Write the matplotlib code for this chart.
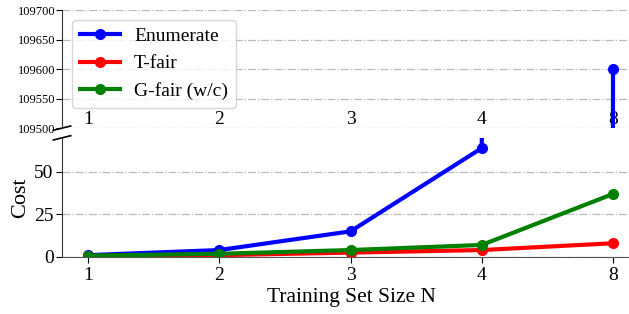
import matplotlib
matplotlib.use('Agg')
import matplotlib.pyplot as plt
import numpy as np

plt.rcParams['font.family'] = ['Liberation Serif', 'DejaVu Serif']

sizes = ['1', '2', '3', '4', '8']
enumerate_cost = [1, 4, 15, 64, 109600]
tfair_cost = [0.5, 1, 2.5, 4, 8]
gfair_cost = [0.7, 1.8, 4, 7, 37]

x = np.arange(len(sizes))

fig = plt.figure(figsize=(6.29, 3.14), dpi=100)
ax_top = fig.add_axes([0.0986, 0.592, 0.919, 0.376])
ax_bot = fig.add_axes([0.0986, 0.182, 0.919, 0.379])

series = [(enumerate_cost, 'blue', 'Enumerate'),
          (tfair_cost, 'red', 'T-fair'),
          (gfair_cost, 'green', 'G-fair (w/c)')]

for ax in (ax_top, ax_bot):
    for vals, c, lab in series:
        ax.plot(x, vals, color=c, marker='o', lw=3, ms=7, label=lab)
    ax.set_xlim(-0.198, 4.206)
    ax.grid(axis='y', linestyle='-.', color='#bbbbbb', lw=0.9)
    ax.set_axisbelow(True)
    ax.spines['top'].set_visible(False)
    ax.spines['right'].set_visible(False)
    ax.spines['left'].set_color('#333333')
    ax.spines['bottom'].set_color('#555555')
    ax.set_xticks(x)
    ax.set_xticklabels(sizes, fontsize=14)

ax_top.set_ylim(109500, 109700)
ax_top.set_yticks([109500, 109550, 109600, 109650, 109700])
ax_top.tick_params(axis='y', labelsize=9, pad=1, length=4)
ax_top.tick_params(axis='x', length=0, pad=-12)
ax_top.spines['bottom'].set_visible(False)

ax_bot.set_ylim(0, 70)
ax_bot.set_yticks([0, 25, 50])
ax_bot.tick_params(axis='y', labelsize=14, pad=2, length=4)
ax_bot.tick_params(axis='x', length=4, pad=3)
ax_bot.set_ylabel('Cost', fontsize=16, labelpad=3)
ax_bot.set_xlabel('Training Set Size N', fontsize=15.5, labelpad=3)

# break marks
d = 0.015
kw = dict(color='k', clip_on=False, lw=1.2)
ax_top.plot((-d, d), (-d * 1.2, d * 1.2), transform=ax_top.transAxes, **kw)
ax_bot.plot((-d, d), (1 - d * 1.2, 1 + d * 1.2), transform=ax_bot.transAxes, **kw)

ax_top.legend(loc='upper left', bbox_to_anchor=(0.0, 1.0), fontsize=14,
              handlelength=2.1, handletextpad=0.7, borderpad=0.4,
              labelspacing=0.5, framealpha=0.8)

fig.savefig('out.png', dpi=100)
